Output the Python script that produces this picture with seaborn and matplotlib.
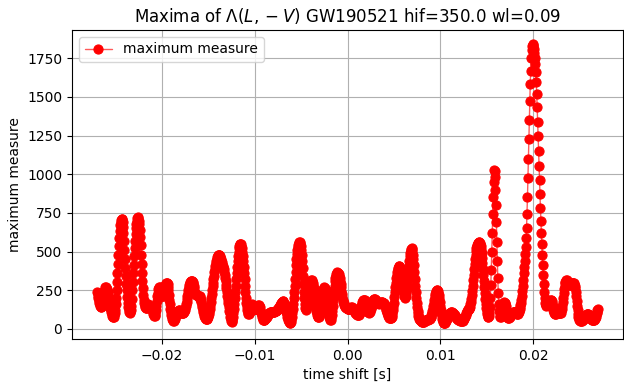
import numpy as np
import pandas as pd
import matplotlib
matplotlib.use("Agg")
import matplotlib.pyplot as plt
import seaborn as sns

# time grid (s): -0.027 .. 0.027, step 0.05 ms
t_start = -0.027
t_step = 0.00005

# maximum measure values, one row per millisecond (20 samples each)
measure_rows = [
    [240, 230, 215, 198, 180, 168, 158, 148, 140, 143, 150, 160, 170, 187, 205, 225, 245, 260, 270, 270],  # -27
    [265, 258, 250, 237, 220, 200, 180, 165, 150, 135, 120, 107, 95, 84, 75, 76, 80, 88, 100, 125],        # -26
    [160, 200, 250, 305, 360, 420, 480, 535, 590, 635, 670, 692, 705, 712, 710, 690, 660, 620, 570, 510],  # -25
    [450, 395, 340, 292, 250, 208, 170, 140, 120, 112, 108, 106, 110, 125, 150, 195, 250, 305, 360, 415],  # -24
    [470, 522, 570, 612, 650, 680, 700, 715, 722, 715, 700, 675, 640, 595, 540, 480, 420, 362, 310, 262],  # -23
    [220, 188, 165, 150, 140, 136, 135, 138, 145, 153, 160, 157, 150, 144, 140, 142, 145, 138, 130, 120],  # -22
    [110, 98, 90, 85, 82, 88, 100, 122, 150, 180, 210, 235, 255, 266, 270, 268, 262, 250, 235, 224],       # -21
    [215, 213, 215, 225, 240, 255, 270, 283, 292, 298, 300, 297, 290, 273, 250, 222, 190, 160, 130, 108],  # -20
    [90, 74, 62, 56, 52, 52, 55, 62, 70, 80, 90, 98, 105, 110, 115, 118, 120, 120, 118, 115],              # -19
    [112, 108, 105, 102, 100, 102, 105, 110, 115, 124, 135, 147, 160, 177, 195, 215, 235, 253, 270, 284],  # -18
    [295, 302, 308, 311, 312, 310, 305, 294, 280, 263, 245, 234, 225, 223, 222, 220, 218, 216, 215, 215],  # -17
    [215, 211, 205, 196, 185, 171, 155, 140, 125, 110, 95, 84, 75, 69, 65, 63, 62, 65, 70, 77],            # -16
    [85, 96, 110, 128, 150, 175, 200, 225, 250, 275, 300, 323, 345, 368, 390, 408, 425, 441, 455, 463],    # -15
    [470, 476, 480, 480, 478, 472, 465, 453, 440, 430, 420, 410, 400, 386, 370, 351, 330, 308, 285, 262],  # -14
    [240, 215, 190, 165, 140, 118, 100, 80, 65, 52, 45, 50, 60, 78, 100, 128, 160, 198, 240, 280],         # -13
    [320, 362, 400, 437, 470, 497, 520, 537, 548, 552, 550, 538, 520, 497, 470, 437, 400, 360, 320, 280],  # -12
    [240, 203, 170, 143, 120, 105, 95, 96, 100, 109, 120, 132, 145, 154, 160, 157, 150, 142, 135, 132],    # -11
    [130, 128, 128, 131, 135, 140, 145, 150, 155, 154, 150, 139, 125, 112, 100, 87, 75, 67, 60, 58],       # -10
    [58, 59, 62, 66, 70, 75, 80, 85, 90, 95, 100, 103, 105, 107, 108, 109, 110, 111, 112, 111],            # -9
    [110, 111, 112, 113, 115, 116, 118, 120, 122, 125, 128, 133, 138, 144, 150, 156, 162, 167, 172, 176],  # -8
    [178, 178, 175, 168, 160, 150, 140, 125, 110, 95, 80, 68, 58, 51, 45, 42, 40, 41, 45, 60],             # -7
    [80, 103, 130, 163, 200, 240, 280, 325, 370, 412, 450, 482, 510, 530, 545, 555, 560, 560, 555, 535],   # -6
    [510, 478, 440, 392, 340, 290, 240, 197, 160, 138, 125, 128, 140, 163, 190, 215, 240, 262, 280, 294],  # -5
    [305, 312, 316, 315, 310, 299, 285, 267, 245, 221, 195, 167, 140, 118, 100, 87, 78, 75, 75, 83],       # -4
    [95, 110, 130, 154, 180, 204, 225, 242, 255, 264, 268, 266, 260, 249, 235, 217, 195, 168, 140, 113],   # -3
    [90, 74, 62, 57, 58, 70, 90, 117, 150, 185, 220, 251, 280, 307, 330, 345, 355, 362, 365, 364],         # -2
    [360, 352, 340, 326, 310, 291, 270, 247, 225, 206, 190, 176, 165, 157, 150, 145, 140, 137, 135, 133],  # -1
    [132, 131, 130, 131, 132, 134, 136, 138, 140, 140, 138, 135, 130, 125, 120, 115, 110, 105, 100, 97],   # 0
    [94, 92, 90, 90, 92, 97, 105, 114, 125, 137, 150, 161, 172, 181, 188, 190, 190, 186, 180, 171],        # 1
    [160, 148, 135, 122, 112, 107, 105, 107, 112, 120, 130, 140, 150, 161, 172, 181, 188, 191, 192, 191],  # 2
    [188, 184, 180, 176, 172, 169, 166, 165, 164, 165, 166, 168, 170, 171, 172, 171, 170, 168, 165, 160],  # 3
    [155, 148, 140, 130, 120, 110, 100, 90, 82, 76, 72, 69, 68, 69, 72, 80, 90, 103, 120, 143],            # 4
    [170, 205, 240, 271, 300, 326, 350, 369, 385, 395, 402, 405, 405, 399, 390, 376, 360, 341, 320, 290],  # 5
    [260, 236, 215, 205, 200, 205, 215, 235, 260, 293, 330, 370, 410, 442, 470, 492, 510, 518, 522, 516],  # 6
    [505, 480, 450, 412, 370, 325, 280, 238, 200, 168, 140, 118, 100, 86, 75, 67, 60, 55, 52, 49],         # 7
    [47, 46, 45, 46, 48, 50, 52, 53, 55, 57, 58, 59, 60, 61, 62, 63, 65, 67, 70, 75],                      # 8
    [80, 89, 100, 114, 130, 149, 170, 190, 210, 226, 238, 244, 248, 250, 250, 244, 235, 220, 200, 176],    # 9
    [150, 124, 100, 81, 65, 54, 45, 40, 36, 36, 38, 43, 50, 57, 65, 72, 80, 86, 92, 96],                   # 10
    [100, 103, 105, 107, 108, 107, 106, 103, 100, 96, 92, 88, 83, 79, 75, 71, 68, 65, 62, 60],             # 11
    [58, 56, 55, 53, 52, 51, 50, 51, 52, 55, 58, 63, 68, 75, 82, 90, 100, 109, 118, 124],                  # 12
    [128, 130, 132, 137, 145, 158, 175, 196, 220, 248, 280, 314, 350, 385, 420, 452, 480, 502, 520, 534],  # 13
    [545, 553, 558, 560, 560, 556, 548, 533, 515, 490, 460, 427, 390, 350, 310, 270, 230, 193, 160, 133],  # 14
    [110, 94, 82, 78, 78, 85, 100, 140, 200, 285, 380, 495, 620, 740, 850, 950, 1030, 1020, 980, 900],     # 15
    [800, 690, 560, 440, 330, 235, 160, 115, 85, 78, 80, 88, 100, 115, 130, 146, 160, 167, 172, 170],      # 16
    [165, 150, 130, 110, 90, 77, 68, 68, 70, 75, 80, 86, 92, 96, 100, 103, 105, 108, 110, 111],            # 17
    [112, 110, 108, 104, 100, 97, 95, 97, 100, 107, 115, 126, 140, 154, 170, 190, 215, 245, 280, 318],     # 18
    [360, 400, 440, 483, 530, 585, 650, 740, 850, 975, 1100, 1225, 1350, 1470, 1580, 1670, 1750, 1800, 1830, 1838],  # 19
    [1840, 1830, 1810, 1783, 1750, 1710, 1660, 1595, 1520, 1435, 1340, 1245, 1150, 1055, 960, 870, 780, 700, 620, 548],  # 20
    [480, 412, 350, 292, 240, 200, 170, 157, 150, 157, 165, 171, 175, 168, 160, 163, 170, 180, 190, 186],  # 21
    [180, 166, 150, 135, 120, 109, 100, 97, 95, 97, 100, 104, 108, 110, 110, 108, 105, 102, 100, 102],     # 22
    [105, 115, 130, 151, 175, 202, 230, 256, 280, 294, 305, 311, 315, 314, 312, 306, 300, 295, 290, 287],  # 23
    [285, 286, 288, 291, 295, 298, 300, 300, 298, 290, 280, 262, 240, 211, 180, 150, 120, 98, 80, 69],     # 24
    [60, 55, 52, 50, 50, 52, 55, 58, 62, 67, 72, 77, 82, 86, 90, 93, 95, 95, 95, 94],                      # 25
    [92, 89, 85, 80, 75, 70, 65, 61, 58, 56, 55, 56, 58, 63, 70, 79, 90, 101, 112, 121],                   # 26
    [130],                                                                                                 # 27
]
for row in measure_rows[:-1]:
    assert len(row) == 20, row

measure = [v for row in measure_rows for v in row]
time_shift = [round(t_start + i * t_step, 7) for i in range(len(measure))]

title = r"Maxima of $\Lambda(L, -V)$ GW190521 hif=350.0 wl=0.09"
xlabel = "time shift [s]"
ylabel = "maximum measure"
series_label = "maximum measure"
yticks = [0, 250, 500, 750, 1000, 1250, 1500, 1750]
xticks = [-0.02, -0.01, 0.0, 0.01, 0.02]

sns.set_style("ticks", {
    "axes.grid": True,
    "grid.color": "#b0b0b0",
    "axes.edgecolor": "black",
    "xtick.color": "black",
    "ytick.color": "black",
    "text.color": "black",
    "axes.labelcolor": "black",
})
plt.rcParams["font.family"] = ["DejaVu Sans"]
plt.rcParams["grid.linewidth"] = 0.8
plt.rcParams["axes.linewidth"] = 0.8

df = pd.DataFrame({"time": time_shift, "value": measure})

fig = plt.figure(figsize=(6.24, 3.85), dpi=100)
ax = fig.add_axes([72 / 624, 1 - 339 / 385, (623 - 72) / 624, (339 - 30) / 385])

sns.lineplot(data=df, x="time", y="value", ax=ax, marker="o", markersize=6.6,
             color="red", linewidth=1.0, label=series_label, sort=False,
             errorbar=None)
line = ax.lines[0]
line.set_color((1.0, 0.0, 0.0, 0.65))
line.set_markerfacecolor("red")
line.set_markeredgecolor("red")

ax.set_xticks(xticks)
ax.set_yticks(yticks)
ax.set_xlim(-0.0297, 0.0297)
ax.set_ylim(-65, 1932)
ax.set_title(title, fontsize=12)
ax.set_xlabel(xlabel, fontsize=10)
ax.set_ylabel(ylabel, fontsize=10)
ax.tick_params(labelsize=10)
ax.grid(True, color="#b0b0b0", linewidth=0.8)
ax.legend(loc="upper left", fontsize=10)

fig.savefig("out.png", dpi=100)
